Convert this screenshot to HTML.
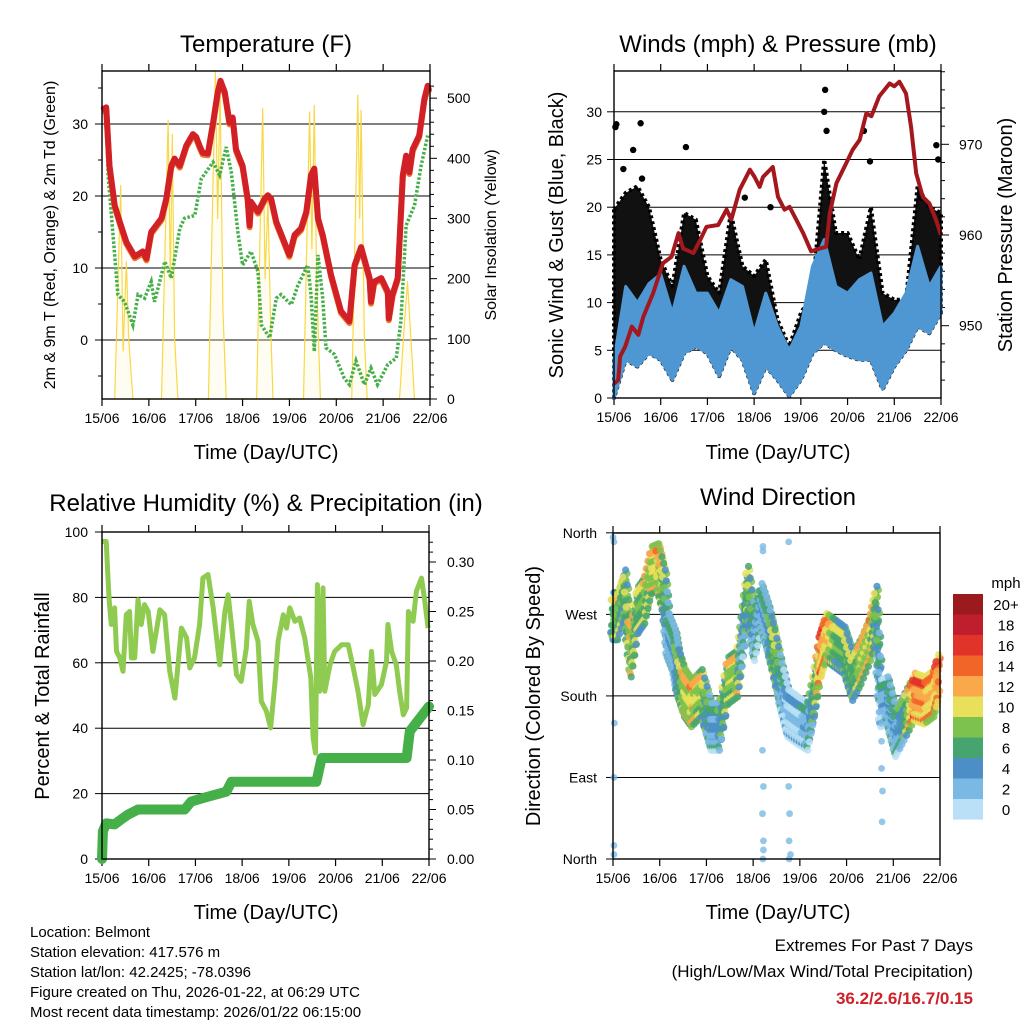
<!DOCTYPE html>
<html><head><meta charset="utf-8">
<style>
html,body{margin:0;padding:0;background:#fff;}
svg{display:block;font-family:"Liberation Sans",Arial,sans-serif;}
</style></head>
<body>
<svg id="chart" width="1024" height="1024" viewBox="0 0 1024 1024" xmlns="http://www.w3.org/2000/svg">
<rect width="1024" height="1024" fill="#fff"/>
<text x="266" y="52" font-size="24" text-anchor="middle">Temperature (F)</text>
<text x="778" y="52" font-size="24" text-anchor="middle">Winds (mph) &amp; Pressure (mb)</text>
<text x="266" y="511" font-size="24" text-anchor="middle">Relative Humidity (%) &amp; Precipitation (in)</text>
<text x="778" y="505" font-size="24" text-anchor="middle">Wind Direction</text>

<text x="266" y="459" font-size="20" text-anchor="middle">Time (Day/UTC)</text>
<text x="778" y="459" font-size="20" text-anchor="middle">Time (Day/UTC)</text>
<text x="266" y="919" font-size="20" text-anchor="middle">Time (Day/UTC)</text>
<text x="778" y="919" font-size="20" text-anchor="middle">Time (Day/UTC)</text>

<text transform="translate(55,235) rotate(-90)" font-size="16" text-anchor="middle">2m &amp; 9m T (Red, Orange) &amp; 2m Td (Green)</text>
<text transform="translate(496,235) rotate(-90)" font-size="16" text-anchor="middle">Solar Insolation (Yellow)</text>
<text transform="translate(563,235) rotate(-90)" font-size="20" text-anchor="middle">Sonic Wind &amp; Gust (Blue, Black)</text>
<text transform="translate(1012,235) rotate(-90)" font-size="20" text-anchor="middle">Station Pressure (Maroon)</text>
<text transform="translate(49,696) rotate(-90)" font-size="20" text-anchor="middle">Percent &amp; Total Rainfall</text>
<text transform="translate(540,696) rotate(-90)" font-size="20" text-anchor="middle">Direction (Colored By Speed)</text>

<g font-size="15">
<text x="30" y="937">Location: Belmont</text>
<text x="30" y="957">Station elevation: 417.576 m</text>
<text x="30" y="977">Station lat/lon: 42.2425; -78.0396</text>
<text x="30" y="997">Figure created on Thu, 2026-01-22, at 06:29 UTC</text>
<text x="30" y="1017">Most recent data timestamp: 2026/01/22 06:15:00</text>
</g>
<g font-size="17" text-anchor="end">
<text x="973" y="951">Extremes For Past 7 Days</text>
<text x="973" y="977">(High/Low/Max Wind/Total Precipitation)</text>
<text x="973" y="1004" fill="#cc2229" font-weight="bold">36.2/2.6/16.7/0.15</text>
</g>
<g id="layer"></g>
</svg>
<script>
// ---------- data ----------
const dayLabels = ["15/06","16/06","17/06","18/06","19/06","20/06","21/06","22/06"];
const tempT = [0,0.09,0.16,0.27,0.38,0.52,0.70,0.87,0.95,1.05,1.27,1.37,1.48,1.55,1.66,1.8,1.94,2.01,2.08,2.15,2.26,2.37,2.47,2.53,2.62,2.72,2.79,2.86,3.0,3.11,3.15,3.18,3.33,3.4,3.47,3.54,3.61,3.72,3.86,4.0,4.11,4.25,4.36,4.46,4.53,4.61,4.71,4.89,5.1,5.28,5.39,5.53,5.71,5.74,5.81,5.96,6.1,6.12,6.2,6.31,6.42,6.49,6.56,6.63,6.77,6.88,6.95,6.98];
const tempV = [32,32.3,24.2,18.7,16.4,13.6,11.6,12.3,11.3,15,16.9,19.6,24.2,25.2,24.2,27,28.6,28.2,27,26,25.9,30.2,34.4,36,34.4,30.2,30.9,26.5,24.2,19.6,15.9,19.2,17.8,18.7,19.6,20.1,19.6,16.4,14.1,11.8,14.6,15.5,17.8,22.9,23.8,16.9,14.6,9,4,2.6,10.4,12.9,8.6,5.3,8.1,8.6,6.7,3,6.3,8.6,22.9,25.6,23.3,26.5,28.4,33.5,35.3,34.6];
const dewT = [0,0.09,0.13,0.23,0.34,0.48,0.66,0.77,0.91,1.05,1.12,1.34,1.48,1.66,1.76,1.98,2.12,2.37,2.51,2.65,2.76,2.9,3.0,3.18,3.33,3.4,3.58,3.72,3.82,4.04,4.18,4.39,4.46,4.53,4.61,4.71,4.78,4.96,5.17,5.28,5.42,5.6,5.74,5.88,6.1,6.28,6.38,6.49,6.67,6.81,6.95];
const dewV = [31.6,31.6,22.9,15,6.3,5.3,2.1,6.3,5.8,8.1,5.3,10.9,8.6,15.5,16.9,17.3,22.4,24.7,22.9,26.8,23.3,15,10.4,12.3,9.5,2.1,0.3,5.8,6.3,4.9,7.6,10.4,6.3,-1.6,11.8,5.8,-1.1,-2,-5.3,-6.2,-2.9,-6.2,-3.9,-6.2,-3.4,-2.5,2.6,15.9,18.7,24.2,28.4];
const solarT = [0.27,0.4,0.45,0.52,0.57,0.66, 1.27,1.41,1.46,1.5,1.55,1.62, 2.27,2.42,2.47,2.52,2.58,2.65, 3.3,3.43,3.48,3.54,3.6,3.65, 4.3,4.43,4.48,4.53,4.58,4.66, 5.33,5.46,5.5,5.53,5.6,5.66, 6.35,6.45,6.52,6.6,6.67];
const solarV = [0,355,80,228,100,0, 0,463,200,440,100,0, 0,544,300,520,150,0, 0,483,200,330,120,0, 0,477,250,488,200,0, 0,505,300,480,100,0, 0,120,195,90,0];
const windT = [0,0.25,0.5,0.75,1,1.25,1.5,1.75,2,2.25,2.5,2.75,3,3.25,3.5,3.75,4,4.25,4.5,4.75,5,5.25,5.5,5.75,6,6.25,6.5,6.75,7];
const windLo = [0,4,3.3,4.7,4,1.9,4.7,5.4,4.7,2.3,5.4,4,0.5,3.3,1.9,0.2,1.9,4.7,5.8,5,4.4,4,4,0.9,3.3,5,7.5,6.8,8.9];
const windHi = [4,11.7,10,12,13,8.9,13.8,11,11,8.9,12.4,11.7,6.8,11,7.5,5,7.5,13.8,16.6,11.7,11,12.4,13.1,7.5,8.9,11,15.9,11.7,13.8];
const gustHi = [19.8,21.5,22.2,20,14.5,11.7,19.4,18.7,12.8,11,19.4,13.8,12.8,14.5,8.2,5.4,8.9,11,25,17.3,17.3,14.5,20,11,10.3,10.3,22.2,20,19.4];
const gustOutT = [0.03,0.05,0.57,0.41,1.54,4.52,4.5,4.55,5.35,5.48,6.94,6.9,6.58,0.2,0.6,2.8,3.35];
const gustOutV = [28.4,28.7,28.8,26,26.3,32.3,30,28,28,24.8,25,26.5,21,24,23,21,20];
const presT = [0,0.09,0.13,0.24,0.38,0.52,0.63,0.84,1.05,1.23,1.38,1.48,1.7,1.84,1.98,2.23,2.41,2.51,2.69,2.91,3.01,3.12,3.19,3.4,3.51,3.65,3.76,3.9,4.05,4.22,4.4,4.54,4.62,4.76,4.97,5.11,5.26,5.4,5.51,5.68,5.9,6.0,6.11,6.25,6.36,6.47,6.61,6.75,6.89,7.0];
const presV = [943.6,944,946.6,947.7,949.9,949,951,953.6,956.9,957.6,960.2,958.5,958,959.4,960.9,961.1,962.8,961.7,965,967.2,966.4,965.3,966.4,967.5,964.2,962.8,963.1,961.7,960.2,958.2,958.5,958.7,962.4,965.7,967.9,969.4,970.5,973.4,973.1,975.3,976.7,976.4,976.9,975.6,971.9,966.8,964.2,963.5,961.7,960];
const rhT = [0,0.09,0.14,0.16,0.2,0.27,0.31,0.38,0.45,0.52,0.59,0.63,0.7,0.77,0.84,0.91,0.99,1.09,1.24,1.34,1.45,1.56,1.7,1.81,1.88,1.98,2.09,2.16,2.27,2.38,2.52,2.63,2.7,2.77,2.88,2.98,3.09,3.15,3.23,3.34,3.41,3.52,3.61,3.7,3.77,3.88,3.95,4.02,4.13,4.23,4.34,4.47,4.52,4.57,4.61,4.66,4.73,4.77,4.88,4.98,5.13,5.27,5.38,5.48,5.59,5.7,5.77,5.84,5.98,6.09,6.12,6.2,6.3,6.37,6.45,6.52,6.56,6.66,6.73,6.84,6.91,6.98];
const rhV = [97.1,97.1,82.9,77.8,71.7,76.8,63.5,61.5,57.4,74.7,75.7,61.5,61.5,79.3,71.7,77.8,75.7,63.5,76.2,74.7,57.4,49.2,70.6,67.6,58.4,61.5,71.7,85.9,87,76.8,59.4,75.7,80.8,71.7,56.4,54.3,64.5,78.8,71.7,66.6,48.2,45.2,40.1,53.3,66.6,74.7,70.6,76.8,72.7,73.7,67.6,55.4,37,32.4,83.9,51.3,82.9,51.3,59.4,63.5,65.5,65.5,58.4,51.3,41.1,47.2,63.5,50.3,53.3,60.4,71.7,63.5,59.4,51.3,44.1,46.2,75.7,72.7,81.9,85.9,78.8,70.6];
const prT = [0,0.02,0.09,0.27,0.41,0.56,0.77,1.77,1.91,2.2,2.66,2.77,4.59,4.7,6.52,6.59,6.8,7.0];
const prV = [0,0.028,0.036,0.035,0.04,0.045,0.05,0.05,0.058,0.062,0.068,0.078,0.078,0.102,0.102,0.129,0.142,0.154];
const dirT = [0,0.1,0.25,0.39,0.53,0.68,0.82,0.96,1.1,1.18,1.32,1.39,1.53,1.68,1.89,2.1,2.28,2.46,2.67,2.78,2.88,3.03,3.17,3.31,3.45,3.6,3.74,3.95,4.17,4.31,4.45,4.56,4.74,4.95,5.13,5.31,5.52,5.63,5.73,5.87,6.05,6.23,6.45,6.66,6.87,6.98];
const dirV = [270,270,295,229,277,288,321,324,295,247,229,207,185,174,185,148,148,199,207,251,299,247,280,258,229,192,163,155,148,185,229,247,240,232,203,221,247,277,174,177,141,159,181,177,185,207];
const dirSpd = [7,9,7,10,8,9,10,11,7,4,4,6,10,11,9,4,5,9,10,4,8,4,4,4,8,4,2,2,4,7,14,12,8,7,7,10,11,7,3,4,4,6,14,13,12,14];
const dirOutT = [0,0.02,0.02,0.02,0.02,0.03,3.21,3.21,3.2,3.22,3.2,3.22,3.22,3.21,3.76,3.78,3.77,3.8,3.77,3.76,5.75,5.75,5.77,5.76,5.74];
const dirOutV = [355,350,5,15,90,150,345,340,120,80,50,20,10,0,350,50,20,5,0,80,130,100,75,41,150];
const cbLabels = ["20+","18","16","14","12","10","8","6","4","2","0"];
const cbColors = ["#9b1a1e","#bf1e2d","#e0342a","#f26529","#f9a94a","#e8e05a","#7dc24e","#46a56f","#4b8fc6","#7ab9e4","#b9e0f6"];

const NS="http://www.w3.org/2000/svg";
const layer=document.getElementById('layer');
function mk(tag,attrs,parent){const e=document.createElementNS(NS,tag);for(const k in attrs)e.setAttribute(k,attrs[k]);(parent||layer).appendChild(e);return e;}
function pts(T,V,fx,fy){return T.map((t,i)=>fx(t).toFixed(1)+","+fy(V[i]).toFixed(1)).join(" ");}
function speedColor(s){let b=Math.floor(s/2);if(b<0)b=0;if(b>10)b=10;return cbColors[10-b];}

const P1={l:102,r:430,t:71,b:399};
const P2={l:614,r:941,t:71,b:398};
const P3={l:102,r:429,t:532,b:859};
const P4={l:613,r:940,t:533,b:859};
function xs(P){return t=>P.l+t*(P.r-P.l)/7;}
const x1=xs(P1),x2=xs(P2),x3=xs(P3),x4=xs(P4);
const yT=v=>340-v*7.2, ySol=v=>399-v*0.6017;
const yW=v=>398-v*9.54, yP=p=>235-(p-960)*9.07;
const yRH=v=>859-v*3.27, yPr=v=>859-v*990;
const yD=d=>859-d*0.906;

function frame(P,name,xfun){
  const g=mk('g',{});
  
  
  dayLabels.forEach((lab,i)=>{
    const x=xfun(i);
    mk('line',{x1:x,x2:x,y1:P.b,y2:P.b+7,stroke:'#000','stroke-width':1.2},g);
    mk('line',{x1:x,x2:x,y1:P.t,y2:P.t-7,stroke:'#000','stroke-width':1.2},g);
    const tx=mk('text',{x:x,y:P.b+24,'font-size':14,'text-anchor':'middle'},g);
    
    
    tx.textContent=lab;
  });
  return g;
}
function border(P){mk('rect',{x:P.l,y:P.t,width:P.r-P.l,height:P.b-P.t,fill:'none',stroke:'#000','stroke-width':1.4});}
function hgrid(P,y){mk('line',{x1:P.l,x2:P.r,y1:y,y2:y,stroke:'#000','stroke-width':1});}
function ytick(P,y,side,len,label,anchorX){
  const x0=side==='l'?P.l:P.r, dx=side==='l'?-len:len;
  mk('line',{x1:x0,x2:x0+dx,y1:y,y2:y,stroke:'#000','stroke-width':1});
  if(label!==null){
    const tx=mk('text',{x:anchorX,y:y+5,'font-size':14,'text-anchor':side==='l'?'end':'start'});
    
    
    tx.textContent=label;
  }
}

// Panel 1
frame(P1,'temperature',x1);
[0,10,20,30].forEach(v=>hgrid(P1,yT(v)));
[-5,0,5,10,15,20,25,30,35].forEach(v=>ytick(P1,yT(v),'l',v%10===0?7:4,v%10===0?String(v):null,P1.l-14));
[0,100,200,300,400,500].forEach(v=>ytick(P1,ySol(v),'r',7,String(v),P1.r+17));
for(let v=20;v<540;v+=20){if(v%100)ytick(P1,ySol(v),'r',4,null,0);}
let e;
e=mk('polyline',{points:pts(solarT,solarV,x1,ySol),fill:'#fff6c8','fill-opacity':0.25,stroke:'#f8d846','stroke-width':1.2,'stroke-linejoin':'round'});


e=mk('polyline',{points:pts(dewT,dewV,x1,yT),fill:'none',stroke:'#45b04a','stroke-width':3.5,'stroke-dasharray':'2.5 1.8'});


e=mk('polyline',{points:pts(tempT,tempV,x1,yT),fill:'none',stroke:'#f07a2a','stroke-width':6,'stroke-linejoin':'round',transform:'translate(0,1.8)'});


e=mk('polyline',{points:pts(tempT,tempV,x1,yT),fill:'none',stroke:'#d22027','stroke-width':6,'stroke-linejoin':'round'});


border(P1);

// Panel 2
frame(P2,'winds',x2);
[0,5,10,15,20,25,30].forEach(v=>{hgrid(P2,yW(v));ytick(P2,yW(v),'l',7,String(v),P2.l-12);});
[950,960,970].forEach(v=>ytick(P2,yP(v),'r',8,String(v),P2.r+18));
for(let v=944;v<=978;v+=2){if(v%10)ytick(P2,yP(v),'r',4,null,0);}
const gustPoly=windT.map((t,i)=>x2(t).toFixed(1)+","+yW(gustHi[i]).toFixed(1)).concat(windT.slice().reverse().map((t,j)=>{const i=windT.length-1-j;return x2(t).toFixed(1)+","+yW(windLo[i]).toFixed(1);})).join(" ");
e=mk('polygon',{points:gustPoly,fill:'#111',stroke:'#000','stroke-width':4,'stroke-dasharray':'3 3','stroke-linejoin':'round'});


gustOutT.forEach((t,i)=>{const c=mk('circle',{cx:x2(t),cy:yW(gustOutV[i]),r:3.2,fill:'#000'});

});
const windPoly=windT.map((t,i)=>x2(t).toFixed(1)+","+yW(windHi[i]).toFixed(1)).concat(windT.slice().reverse().map((t,j)=>{const i=windT.length-1-j;return x2(t).toFixed(1)+","+yW(windLo[i]).toFixed(1);})).join(" ");
e=mk('polygon',{points:windPoly,fill:'#4f97d2',stroke:'#4f97d2','stroke-width':3,'stroke-linejoin':'round'});


e=mk('polyline',{points:pts(presT,presV,x2,yP),fill:'none',stroke:'#a3171d','stroke-width':4,'stroke-linejoin':'round'});


border(P2);

// Panel 3
frame(P3,'humidity',x3);
[20,40,60,80].forEach(v=>hgrid(P3,yRH(v)));
[0,20,40,60,80,100].forEach(v=>ytick(P3,yRH(v),'l',7,String(v),P3.l-14));
[0,0.05,0.10,0.15,0.20,0.25,0.30].forEach(v=>ytick(P3,yPr(v),'r',7,v.toFixed(2),P3.r+18));
for(let k=1;k<33;k++){if(k%5)ytick(P3,yPr(k*0.01),'r',4,null,0);}
e=mk('polyline',{points:pts(rhT,rhV,x3,yRH),fill:'none',stroke:'#8fcb50','stroke-width':5,'stroke-linejoin':'round'});


e=mk('polyline',{points:pts(prT,prV,x3,yPr),fill:'none',stroke:'#45b04a','stroke-width':10,'stroke-linejoin':'round','stroke-linecap':'round'});


border(P3);

// Panel 4
frame(P4,'direction',x4);
const dirNames=["North","East","South","West","North"];
[0,90,180,270,360].forEach((d,i)=>{hgrid(P4,yD(d));ytick(P4,yD(d),'l',7,dirNames[i],P4.l-16);});
const offX=[0,0.03,-0.03,0.05,-0.05,0.015,-0.015,0.04,-0.04,0.02,-0.02,0];
const offY=[0,12,-12,20,-20,-6,6,-16,16,24,-24,-28];
const offS=[0,1,-1,2,-2,1,-1,0,3,-2,2,-3];
for(let i=0;i<dirT.length-1;i++){
  for(let s=0;s<4;s++){
    const f=s/4;
    const t=dirT[i]+(dirT[i+1]-dirT[i])*f;
    const d=dirV[i]+(dirV[i+1]-dirV[i])*f;
    const sp=dirSpd[i]+(dirSpd[i+1]-dirSpd[i])*f;
    for(let k=0;k<offX.length;k++){
      const c=mk('circle',{cx:x4(t+offX[k]),cy:yD(d+offY[k]),r:3.6,fill:speedColor(sp+offS[k]),'fill-opacity':0.85});
      
      
    }
  }
}
dirOutT.forEach((t,i)=>{const c=mk('circle',{cx:x4(t),cy:yD(dirOutV[i]),r:3.4,fill:'#7ab9e4','fill-opacity':0.8});

});
border(P4);

const cbg=mk('g',{});


const mt=mk('text',{x:1006,y:588,'font-size':15,'text-anchor':'middle'},cbg);


mt.textContent='mph';
cbLabels.forEach((lab,i)=>{
  const y=594+i*20.5;
  const r=mk('rect',{x:953,y:y,width:30,height:20.6,fill:cbColors[i]},cbg);
  
  
  const tx=mk('text',{x:1006,y:y+16,'font-size':15,'text-anchor':'middle'},cbg);
  
  
  tx.textContent=lab;
});
</script>
</body></html>
